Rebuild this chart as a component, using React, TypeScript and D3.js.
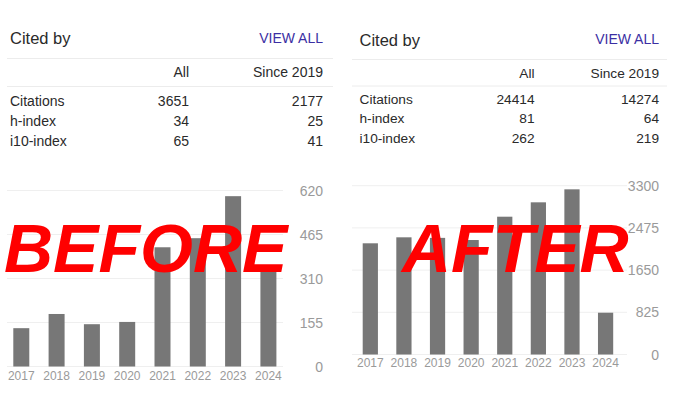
import React from "react";
import * as d3 from "d3";

const years = ["2017", "2018", "2019", "2020", "2021", "2022", "2023", "2024"];
const beforeValues = [135, 185, 149, 157, 420, 452, 600, 345];
const afterValues = [2174, 2291, 2280, 2238, 2694, 2975, 3229, 817];
const beforeTicks = [0, 155, 310, 465, 620];
const afterTicks = [0, 825, 1650, 2475, 3300];
const rowLabels = ["Citations", "h-index", "i10-index"];
const beforeAll = ["3651", "34", "65"];
const beforeSince = ["2177", "25", "41"];
const afterAll = ["24414", "81", "262"];
const afterSince = ["14274", "64", "219"];

const FONT = "'Liberation Sans', Arial, Helvetica, sans-serif";

type PanelCfg = {
  titleX: number;
  titleY: number;
  viewRight: number;
  viewY: number;
  divY: [number, number];
  divX: [number, number];
  allRight: number;
  sinceRight: number;
  headY: number;
  rowY: number[];
  bandRange: [number, number];
  yRange: [number, number];
  yMax: number;
  gridX: [number, number];
  yLabelRight: number;
  yearY: number;
  values: number[];
  ticks: number[];
  all: string[];
  since: string[];
  tableSize: number;
};

function Panel({ c }: { c: PanelCfg }) {
  const x = d3.scaleBand<string>().domain(years).range(c.bandRange).paddingInner(0.547).paddingOuter(0);
  const y = d3.scaleLinear().domain([0, c.yMax]).range(c.yRange);
  return (
    <g fontFamily={FONT}>
      <text x={c.titleX} y={c.titleY} fontSize={16.5} fill="#2a2a2a">Cited by</text>
      <text x={c.viewRight} y={c.viewY} fontSize={14} fill="#3b2fa3" textAnchor="end">VIEW ALL</text>
      {c.divY.map((dy, i) => (
        <line key={i} x1={c.divX[0]} x2={c.divX[1]} y1={dy} y2={dy} stroke="#ececec" strokeWidth={1} />
      ))}
      <text x={c.allRight} y={c.headY} fontSize={c.tableSize} fill="#2a2a2a" textAnchor="end">All</text>
      <text x={c.sinceRight} y={c.headY} fontSize={c.tableSize} fill="#2a2a2a" textAnchor="end">Since 2019</text>
      {rowLabels.map((r, i) => (
        <g key={r}>
          <text x={c.titleX} y={c.rowY[i]} fontSize={c.tableSize} fill="#2a2a2a">{r}</text>
          <text x={c.allRight} y={c.rowY[i]} fontSize={c.tableSize} fill="#2a2a2a" textAnchor="end">{c.all[i]}</text>
          <text x={c.sinceRight} y={c.rowY[i]} fontSize={c.tableSize} fill="#2a2a2a" textAnchor="end">{c.since[i]}</text>
        </g>
      ))}
      {c.ticks.map((t) => (
        <g key={t}>
          <line x1={c.gridX[0]} x2={c.gridX[1]} y1={y(t)} y2={y(t)} stroke="#efefef" strokeWidth={1} />
          <text x={c.yLabelRight} y={y(t)} dy="0.36em" fontSize={14} fill="#9a9a9a" textAnchor="end">{t}</text>
        </g>
      ))}
      {years.map((yr, i) => (
        <rect key={yr} x={x(yr)} y={y(c.values[i])} width={x.bandwidth()} height={y(0) - y(c.values[i])} fill="#777777" />
      ))}
      {years.map((yr) => (
        <text key={yr} x={(x(yr) as number) + x.bandwidth() / 2} y={c.yearY} fontSize={12} fill="#9a9a9a" textAnchor="middle">{yr}</text>
      ))}
    </g>
  );
}

const left: PanelCfg = {
  titleX: 10, titleY: 43.5, viewRight: 323, viewY: 42.7,
  divY: [58.5, 86.5], divX: [7, 333],
  allRight: 189, sinceRight: 323, headY: 77.3, rowY: [106, 126, 146],
  bandRange: [13.3, 276.4], yRange: [366.5, 190.5], yMax: 620,
  gridX: [7, 283], yLabelRight: 323, yearY: 379.5,
  values: beforeValues, ticks: beforeTicks, all: beforeAll, since: beforeSince, tableSize: 14,
};

const right: PanelCfg = {
  titleX: 359.5, titleY: 46, viewRight: 659, viewY: 44.3,
  divY: [59.5, 86], divX: [352, 667],
  allRight: 534.5, sinceRight: 659, headY: 77.5, rowY: [104, 123.3, 142.5],
  bandRange: [362.7, 613.2], yRange: [354.5, 185.7], yMax: 3300,
  gridX: [352, 627], yLabelRight: 659, yearY: 366.5,
  values: afterValues, ticks: afterTicks, all: afterAll, since: afterSince, tableSize: 13.7,
};

export default function App() {
  return (
    <svg width={680} height={411} style={{ position: "absolute", left: 0, top: 0, background: "#fff" }}>
      <rect x={0} y={0} width={680} height={411} fill="#fff" />
      <Panel c={left} />
      <Panel c={right} />
      <text x={4} y={272} fontFamily={FONT} fontSize={68} fontWeight="bold" fontStyle="italic" fill="#ff0000">BEFORE</text>
      <text x={402} y={272} fontFamily={FONT} fontSize={68} fontWeight="bold" fontStyle="italic" fill="#ff0000">AFTER</text>
    </svg>
  );
}
